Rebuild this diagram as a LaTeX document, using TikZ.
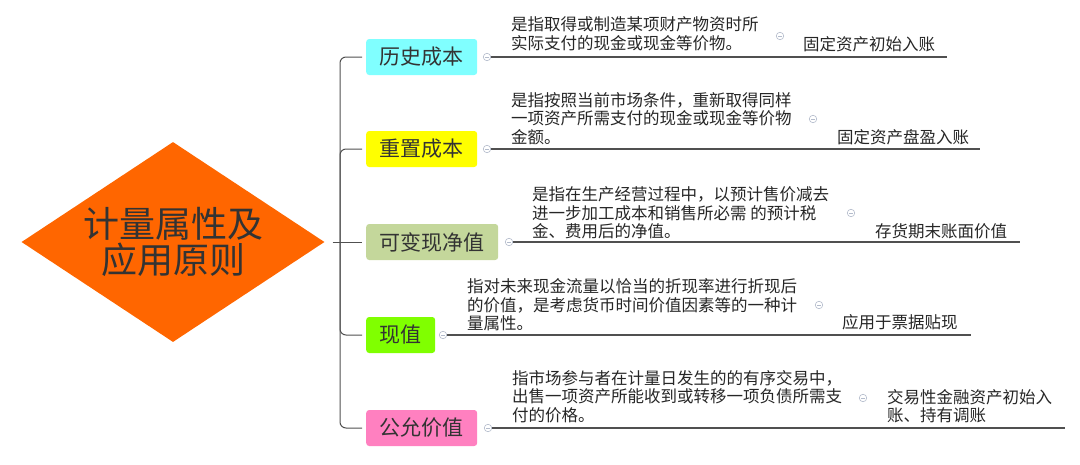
\documentclass[tikz,border=0pt]{standalone}
\usepackage{fontspec}
\setmainfont{Noto Sans CJK SC}
\usepackage{xcolor}
\usepackage{tikz}
\usetikzlibrary{positioning,%
  shapes.geometric,%
  calc}

\definecolor{rootorange}{HTML}{FF6600}
\definecolor{histcyan}{HTML}{80FFFF}
\definecolor{replyellow}{HTML}{FFFF00}
\definecolor{netsage}{HTML}{C4D79B}
\definecolor{presgreen}{HTML}{80FF00}
\definecolor{fairpink}{HTML}{FF80C0}
\definecolor{linegray}{HTML}{505050}
\definecolor{knobgray}{HTML}{B4BCCC}

\begin{document}
\begin{tikzpicture}[x=1pt,y=-1pt,
    kind/.style={anchor=west,rounded corners=3pt,minimum height=36pt,inner xsep=13.5pt,inner ysep=0pt,
      text=black!80,font=\fontsize{21}{21}\selectfont},
    note/.style={anchor=west,align=left,inner sep=0pt,text=black!85,font=\fontsize{16.5}{18.6}\selectfont},
    knob/.style={circle,draw=knobgray,fill=white,line width=0.6pt,minimum size=7.5pt,inner sep=0pt,
      path picture={\draw[knobgray,line width=0.6pt] ([xshift=-2pt]path picture bounding box.center)
        -- ([xshift=2pt]path picture bounding box.center);}},
    branch/.style={draw=linegray,line width=1.2pt},
    spine/.style={draw=linegray,line width=1pt,rounded corners=6pt}]

\useasboundingbox (0,0) rectangle (1080,464);

% centre
\node[diamond,fill=rootorange,aspect=1.515,minimum width=303pt,minimum height=200pt,inner sep=0pt,
  align=center,text=black!80,font=\fontsize{36}{36}\selectfont] (root) at (173,242) {计量属性及\\应用原则};

% measurement bases
\node[kind,fill=histcyan]   (hist) at (366,57)  {历史成本};
\node[kind,fill=replyellow] (repl) at (366,149) {重置成本};
\node[kind,fill=netsage]    (net)  at (366,242) {可变现净值};
\node[kind,fill=presgreen]  (pres) at (366,335) {现值};
\node[kind,fill=fairpink]   (fair) at (366,428) {公允价值};

% spine
\coordinate (hub) at (340,242);
\draw[spine] ([xshift=8pt]root.east) -- ([xshift=-4pt]net.west);
\draw[spine] ([xshift=-4pt]hist.west) -| (hub);
\draw[spine] ([xshift=-4pt]repl.west) -| (hub);
\draw[spine] ([xshift=-4pt]pres.west) -| (hub);
\draw[spine] ([xshift=-4pt]fair.west) -| (hub);

% branch lines
\node[knob] (histknob) at (487,57) {};
\node[knob] (replknob) at (487,149) {};
\node[knob] (netknob)  at (509,242) {};
\node[knob] (presknob) at (443,335) {};
\node[knob] (fairknob) at (488,428) {};
\coordinate (histend) at (947,57);
\coordinate (replend) at (980,149);
\coordinate (netend)  at (1020,242);
\coordinate (presend) at (971,335);
\coordinate (fairend) at (1065,428);
\draw[branch] (histknob.east) -- (histend);
\draw[branch] (replknob.east) -- (replend);
\draw[branch] (netknob.east)  -- (netend);
\draw[branch] (presknob.east) -- (presend);
\draw[branch] (fairknob.east) -- (fairend);

% definitions
\node[note] (histnote) at (511,34)    {是指取得或制造某项财产物资时所\\实际支付的现金或现金等价物。};
\node[note] (replnote) at (511,118.5) {是指按照当前市场条件，重新取得同样\\一项资产所需支付的现金或现金等价物\\金额。};
\node[note] (netnote)  at (532,213)   {是指在生产经营过程中，以预计售价减去\\进一步加工成本和销售所必需 的预计税\\金、费用后的净值。};
\node[note] (presnote) at (467,305)   {指对未来现金流量以恰当的折现率进行折现后\\的价值，是考虑货币时间价值因素等的一种计\\量属性。};
\node[note] (fairnote) at (512,396.5) {指市场参与者在计量日发生的的有序交易中，\\出售一项资产所能收到或转移一项负债所需支\\付的价格。};

\node[knob] (histnoteknob) at (780,36)  {};
\node[knob] (replnoteknob) at (813,119) {};
\node[knob] (netnoteknob)  at (851,213) {};
\node[knob] (presnoteknob) at (819,305) {};
\node[knob] (fairnoteknob) at (863,398) {};

% application
\node[note] (histuse) at (803,44)  {固定资产初始入账};
\node[note] (repluse) at (837,137) {固定资产盘盈入账};
\node[note] (netuse)  at (875,231) {存货期末账面价值};
\node[note] (presuse) at (842,322) {应用于票据贴现};
\node[note] (fairuse) at (887,406) {交易性金融资产初始入\\账、持有调账};
\end{tikzpicture}
\end{document}
